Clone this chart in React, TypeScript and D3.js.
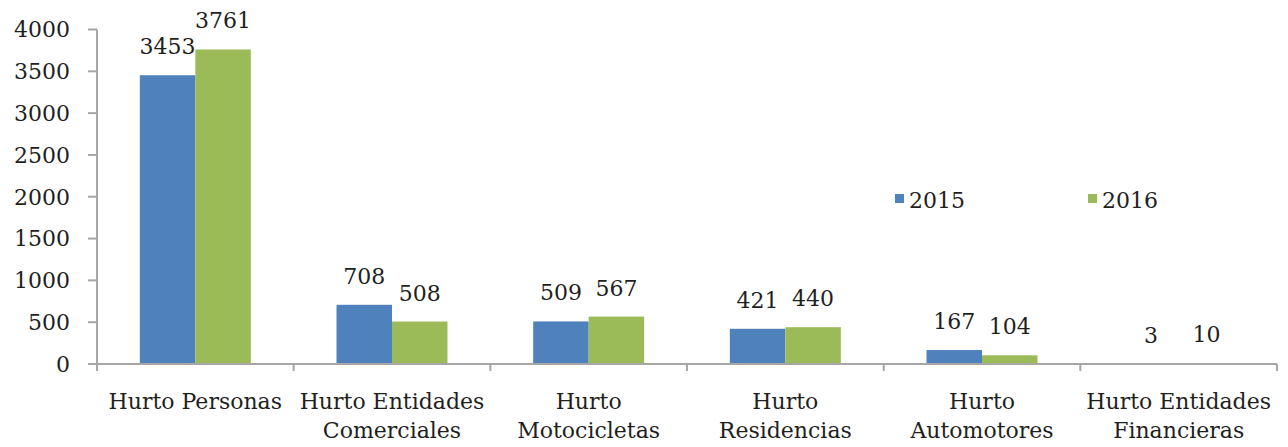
import React from "react";
import * as d3 from "d3";

const categories: string[][] = [
  ["Hurto Personas"],
  ["Hurto Entidades", "Comerciales"],
  ["Hurto", "Motocicletas"],
  ["Hurto", "Residencias"],
  ["Hurto", "Automotores"],
  ["Hurto Entidades", "Financieras"],
];
const series = ["2015", "2016"];
const values2015 = [3453, 708, 509, 421, 167, 3];
const values2016 = [3761, 508, 567, 440, 104, 10];
const yTicks = [0, 500, 1000, 1500, 2000, 2500, 3000, 3500, 4000];
const colors = ["#4F81BD", "#9BBB59"];

const W = 1288;
const H = 447;
const FONT = "'DejaVu Serif', serif";

export default function App() {
  const x0 = 97;
  const x1 = 1277;
  const yTop = 29.5;
  const yBase = 364;
  const x = d3
    .scaleBand<number>()
    .domain(categories.map((_, i) => i))
    .range([x0, x1])
    .padding(0);
  const y = d3.scaleLinear().domain([0, 4000]).range([yBase, yTop]);
  const groupW = 111;
  const sub = d3
    .scaleBand<number>()
    .domain([0, 1])
    .range([0, groupW])
    .padding(0);
  const data = [values2015, values2016];
  const bw = x.bandwidth();
  const axisColor = "#A6A6A6";
  const textColor = "#1f1f1f";
  const fs = 22;

  return (
    <svg
      width={W}
      height={H}
      style={{ position: "absolute", left: 0, top: 0, background: "#fff" }}
      fontFamily={FONT}
    >
      <rect x={0} y={0} width={W} height={H} fill="#fff" />
      {/* bars */}
      {categories.map((_, i) => {
        const gx = (x(i) as number) + (bw - groupW) / 2;
        return (
          <g key={i}>
            {data.map((vals, s) => {
              const bx = gx + (sub(s) as number);
              const by = y(vals[i]);
              return (
                <g key={s}>
                  <rect
                    x={bx}
                    y={by}
                    width={sub.bandwidth()}
                    height={yBase - by}
                    fill={colors[s]}
                  />
                  <text
                    x={bx + sub.bandwidth() / 2}
                    y={by - 21}
                    textAnchor="middle"
                    fontSize={fs}
                    fill={textColor}
                  >
                    {vals[i]}
                  </text>
                </g>
              );
            })}
          </g>
        );
      })}
      {/* y axis */}
      <line x1={x0} x2={x0} y1={yTop} y2={yBase + 7} stroke={axisColor} strokeWidth={2} />
      {yTicks.map((t) => (
        <g key={t}>
          <line x1={x0 - 9} x2={x0} y1={y(t)} y2={y(t)} stroke={axisColor} strokeWidth={2} />
          <text
            x={x0 - 27}
            y={y(t)}
            dy="0.36em"
            textAnchor="end"
            fontSize={fs}
            fill={textColor}
          >
            {t}
          </text>
        </g>
      ))}
      {/* x axis */}
      <line x1={x0} x2={x1} y1={yBase} y2={yBase} stroke={axisColor} strokeWidth={2} />
      {categories.map((_, i) => (
        <line
          key={i}
          x1={(x(i) as number) + bw}
          x2={(x(i) as number) + bw}
          y1={yBase}
          y2={yBase + 7}
          stroke={axisColor}
          strokeWidth={2}
        />
      ))}
      {categories.map((lines, i) => (
        <text
          key={i}
          x={(x(i) as number) + bw / 2}
          y={409}
          textAnchor="middle"
          fontSize={fs}
          fill={textColor}
        >
          {lines.map((l, j) => (
            <tspan key={j} x={(x(i) as number) + bw / 2} y={409 + j * 29}>
              {l}
            </tspan>
          ))}
        </text>
      ))}
      {/* legend */}
      {series.map((s, k) => {
        const lx = k === 0 ? 895 : 1088;
        return (
          <g key={s}>
            <rect x={lx} y={194} width={9} height={9} fill={colors[k]} />
            <text x={lx + 14} y={208} fontSize={fs} fill={textColor}>
              {s}
            </text>
          </g>
        );
      })}
    </svg>
  );
}
